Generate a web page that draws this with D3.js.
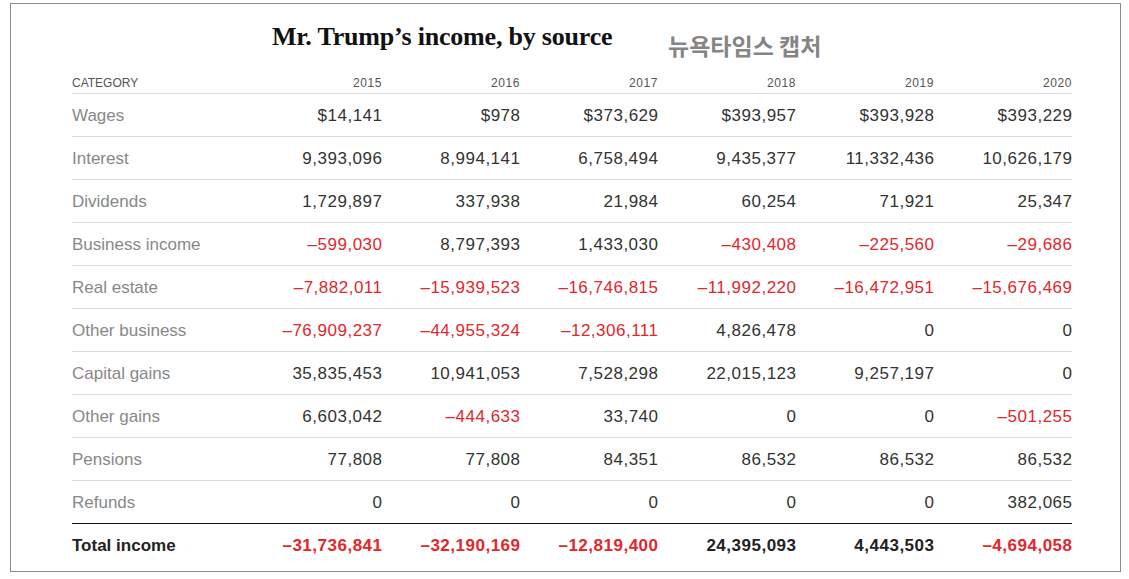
<!DOCTYPE html>
<html>
<head>
<meta charset="utf-8">
<script src="https://cdn.jsdelivr.net/npm/d3@7"></script>
<style>
  body { margin: 0; background: #fff; }
  svg text { font-family: "Liberation Sans", Arial, sans-serif; }
</style>
</head>
<body>
<div id="chart"></div>
<script>
// table values read from the NYT capture
const YEARS = ["2015", "2016", "2017", "2018", "2019", "2020"];
const CATEGORIES = ["Wages", "Interest", "Dividends", "Business income", "Real estate",
    "Other business", "Capital gains", "Other gains", "Pensions", "Refunds"];

const WAGES = [14141, 978, 373629, 393957, 393928, 393229];
const INTEREST = [9393096, 8994141, 6758494, 9435377, 11332436, 10626179];
const DIVIDENDS = [1729897, 337938, 21984, 60254, 71921, 25347];
const BUSINESS_INCOME = [-599030, 8797393, 1433030, -430408, -225560, -29686];
const REAL_ESTATE = [-7882011, -15939523, -16746815, -11992220, -16472951, -15676469];
const OTHER_BUSINESS = [-76909237, -44955324, -12306111, 4826478, 0, 0];
const CAPITAL_GAINS = [35835453, 10941053, 7528298, 22015123, 9257197, 0];
const OTHER_GAINS = [6603042, -444633, 33740, 0, 0, -501255];
const PENSIONS = [77808, 77808, 84351, 86532, 86532, 86532];
const REFUNDS = [0, 0, 0, 0, 0, 382065];
const TOTAL_INCOME = [-31736841, -32190169, -12819400, 24395093, 4443503, -4694058];

const SERIES = [WAGES, INTEREST, DIVIDENDS, BUSINESS_INCOME, REAL_ESTATE,
    OTHER_BUSINESS, CAPITAL_GAINS, OTHER_GAINS, PENSIONS, REFUNDS];

const W = 1129, H = 579;
const RED = "#e3262b";

const svg = d3.select("#chart").append("svg")
    .attr("width", W)
    .attr("height", H);

// outer frame
svg.append("rect")
    .attr("x", 10.5).attr("y", 3.5)
    .attr("width", 1110).attr("height", 568)
    .attr("fill", "none")
    .attr("stroke", "#8a8a8a")
    .attr("stroke-width", 1);

// title
svg.append("text")
    .attr("x", 272).attr("y", 45)
    .style("font-family", "'Liberation Serif', 'DejaVu Serif', serif")
    .style("font-weight", "bold")
    .style("font-size", "26px")
    .style("letter-spacing", "-0.2px")
    .style("fill", "#111")
    .text("Mr. Trump’s income, by source");

svg.append("text")
    .attr("x", 668).attr("y", 55)
    .style("font-family", "'Noto Sans CJK KR', sans-serif")
    .style("font-weight", "bold")
    .style("font-size", "23px")
    .style("fill", "#858585")
    .text("뉴욕타임스 캡처");

const rowNames = CATEGORIES.concat(["Total income"]);

const y = d3.scaleBand()
    .domain(rowNames)
    .range([93, 566]);

// right edge of each year column
const x = d3.scalePoint()
    .domain(YEARS)
    .range([382, 1072]);

const left = 72, right = 1072;

const fmt = d3.format(",");
const cellText = (v, row) => {
    let s = fmt(Math.abs(v));
    if (row === "Wages") s = "$" + s;
    return (v < 0 ? "–" : "") + s;
};

// header
svg.append("text")
    .attr("x", left).attr("y", 87)
    .style("font-size", "12px")
    .style("fill", "#555")
    .text("CATEGORY");

svg.selectAll(".year")
    .data(YEARS)
    .enter().append("text")
    .attr("x", d => x(d))
    .attr("y", 87)
    .attr("text-anchor", "end")
    .style("font-size", "12px")
    .style("letter-spacing", "0.6px")
    .style("fill", "#555")
    .text(d => d);

// row separators
svg.selectAll(".sep")
    .data(rowNames)
    .enter().append("line")
    .attr("x1", left).attr("x2", right)
    .attr("y1", d => Math.round(y(d)) + 0.5)
    .attr("y2", d => Math.round(y(d)) + 0.5)
    .attr("stroke", d => d === "Total income" ? "#111" : "#dcdcdc")
    .attr("stroke-width", 1);

const rows = svg.selectAll(".row")
    .data(rowNames.map((name, i) => ({
        name,
        values: i < SERIES.length ? SERIES[i] : TOTAL_INCOME,
        total: name === "Total income"
    })))
    .enter().append("g")
    .attr("transform", d => `translate(0,${y(d.name) + y.bandwidth() / 2})`);

rows.append("text")
    .attr("x", left)
    .attr("dy", "0.36em")
    .style("font-size", "17px")
    .style("font-weight", d => d.total ? "bold" : "normal")
    .style("fill", d => d.total ? "#222" : "#888")
    .text(d => d.name);

// letter-spacing adds trailing space after the last glyph, so nudge x right to keep the right edge
rows.selectAll(".cell")
    .data(d => d.values.map((v, i) => ({ v, year: YEARS[i], row: d.name, total: d.total })))
    .enter().append("text")
    .attr("x", d => x(d.year) + 0.5)
    .attr("dy", "0.36em")
    .attr("text-anchor", "end")
    .style("font-size", "17px")
    .style("letter-spacing", "0.5px")
    .style("font-weight", d => d.total ? "bold" : "normal")
    .style("fill", d => d.v < 0 ? RED : (d.total ? "#222" : "#333"))
    .text(d => cellText(d.v, d.row));
</script>
</body>
</html>
